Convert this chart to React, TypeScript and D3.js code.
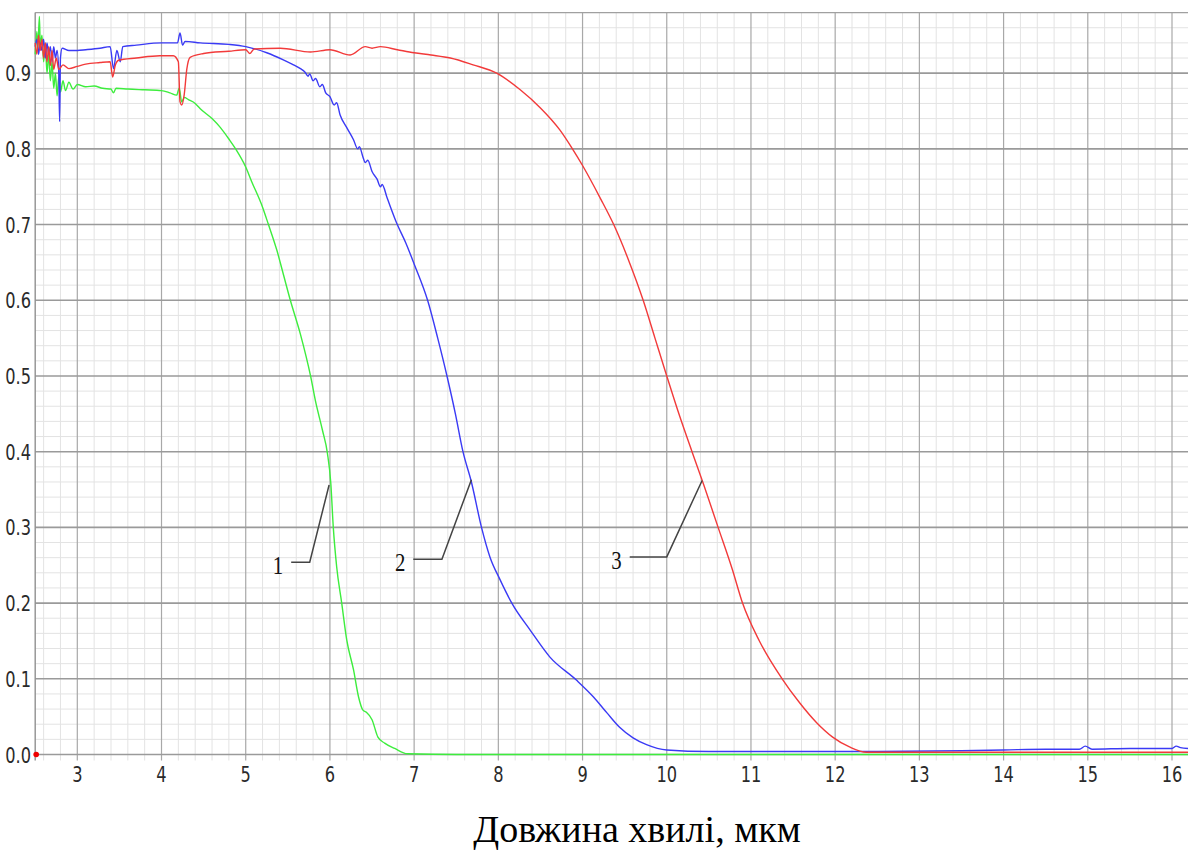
import React, { useEffect, useRef } from 'react';
import * as d3 from 'd3';

type Pt = [number, number];

// Tick values
const xTickValues = [3, 4, 5, 6, 7, 8, 9, 10, 11, 12, 13, 14, 15, 16];
const yTickValues = [0, 0.1, 0.2, 0.3, 0.4, 0.5, 0.6, 0.7, 0.8, 0.9];

const axisTitle = 'Довжина хвилі, мкм';

// Curve 1 (green)
const greenCurve: Pt[] = [
  [2.50, 0.925], [2.52, 0.955], [2.53, 0.93], [2.55, 0.975], [2.56, 0.935], [2.58, 0.95],
  [2.60, 0.915], [2.62, 0.94], [2.64, 0.9], [2.66, 0.925], [2.68, 0.89], [2.70, 0.915],
  [2.72, 0.88], [2.74, 0.9], [2.76, 0.87], [2.78, 0.895], [2.80, 0.875], [2.83, 0.89],
  [2.86, 0.877], [2.90, 0.888], [2.95, 0.879], [3.0, 0.885], [3.1, 0.882], [3.2, 0.883],
  [3.3, 0.880], [3.40, 0.879], [3.43, 0.874], [3.46, 0.880], [3.6, 0.879], [3.8, 0.878],
  [4.0, 0.877], [4.1, 0.874], [4.18, 0.871], [4.21, 0.880], [4.24, 0.862], [4.27, 0.868],
  [4.32, 0.865], [4.4, 0.86], [4.46, 0.853], [4.6, 0.84], [4.7, 0.828], [4.8, 0.813],
  [4.88, 0.800], [5.0, 0.776], [5.07, 0.757], [5.2, 0.723], [5.27, 0.70], [5.37, 0.666],
  [5.45, 0.633], [5.53, 0.6], [5.65, 0.555], [5.77, 0.5], [5.83, 0.466], [5.91, 0.429],
  [5.97, 0.398], [6.01, 0.359], [6.04, 0.30], [6.08, 0.248], [6.14, 0.20], [6.2, 0.151],
  [6.28, 0.112], [6.34, 0.076], [6.39, 0.059], [6.43, 0.056], [6.5, 0.046], [6.57, 0.023],
  [6.65, 0.015], [6.77, 0.008], [6.92, 0.001], [7.5, 0.0], [16.19, 0.0],
];

// Curve 2 (blue)
const blueCurve: Pt[] = [
  [2.50, 0.935], [2.52, 0.945], [2.54, 0.925], [2.56, 0.94], [2.58, 0.93], [2.60, 0.945],
  [2.62, 0.92], [2.64, 0.94], [2.66, 0.925], [2.68, 0.935], [2.70, 0.915], [2.72, 0.935],
  [2.74, 0.92], [2.76, 0.93], [2.78, 0.90], [2.79, 0.836], [2.80, 0.92], [2.82, 0.933],
  [2.9, 0.93], [3.0, 0.93], [3.1, 0.931], [3.27, 0.933], [3.39, 0.935], [3.43, 0.906],
  [3.47, 0.93], [3.51, 0.915], [3.54, 0.935], [3.7, 0.937], [4.0, 0.94], [4.19, 0.94],
  [4.22, 0.953], [4.25, 0.937], [4.28, 0.942], [4.46, 0.94], [4.8, 0.938], [5.0, 0.935],
  [5.25, 0.927], [5.44, 0.918], [5.55, 0.912], [5.65, 0.906], [5.7, 0.902], [5.74, 0.896],
  [5.76, 0.899], [5.8, 0.89], [5.83, 0.893], [5.88, 0.882], [5.91, 0.885], [5.95, 0.874],
  [6.0, 0.869], [6.05, 0.858], [6.08, 0.861], [6.12, 0.845], [6.2, 0.828], [6.28, 0.812],
  [6.33, 0.800], [6.35, 0.803], [6.39, 0.790], [6.42, 0.782], [6.45, 0.785], [6.5, 0.770],
  [6.56, 0.760], [6.6, 0.750], [6.62, 0.753], [6.68, 0.735], [6.8, 0.70], [6.9, 0.676],
  [7.0, 0.648], [7.16, 0.6], [7.28, 0.55], [7.39, 0.5], [7.49, 0.45], [7.58, 0.40],
  [7.68, 0.36], [7.8, 0.30], [7.9, 0.261], [8.02, 0.231], [8.16, 0.20], [8.38, 0.164],
  [8.61, 0.129], [8.93, 0.098], [9.13, 0.076], [9.29, 0.055], [9.44, 0.036], [9.6, 0.022],
  [9.76, 0.013], [10.0, 0.006], [10.5, 0.004], [11.5, 0.004], [12.5, 0.004], [13.5, 0.005],
  [14.0, 0.006], [14.5, 0.007], [14.9, 0.007], [14.97, 0.011], [15.05, 0.007], [15.5, 0.008],
  [16.0, 0.008], [16.05, 0.011], [16.1, 0.009], [16.19, 0.008],
];

// Curve 3 (red)
const redCurve: Pt[] = [
  [2.50, 0.94], [2.52, 0.925], [2.54, 0.95], [2.56, 0.93], [2.58, 0.945], [2.60, 0.92],
  [2.62, 0.94], [2.64, 0.915], [2.66, 0.935], [2.68, 0.91], [2.70, 0.93], [2.72, 0.905],
  [2.75, 0.92], [2.78, 0.905], [2.83, 0.911], [2.9, 0.906], [3.0, 0.909], [3.1, 0.912],
  [3.27, 0.914], [3.39, 0.915], [3.42, 0.895], [3.45, 0.91], [3.49, 0.917], [3.7, 0.92],
  [3.98, 0.923], [4.14, 0.923], [4.2, 0.915], [4.22, 0.862], [4.24, 0.858], [4.27, 0.872],
  [4.30, 0.905], [4.34, 0.921], [4.5, 0.926], [4.8, 0.929], [5.0, 0.931], [5.05, 0.926],
  [5.1, 0.932], [5.41, 0.933], [5.77, 0.928], [6.0, 0.931], [6.24, 0.924], [6.42, 0.935],
  [6.5, 0.933], [6.6, 0.935], [6.8, 0.931], [7.0, 0.927], [7.2, 0.924], [7.43, 0.92],
  [7.7, 0.911], [7.98, 0.9], [8.26, 0.878], [8.5, 0.854], [8.73, 0.825], [8.88, 0.8],
  [9.0, 0.778], [9.21, 0.735], [9.37, 0.7], [9.55, 0.652], [9.72, 0.6], [9.86, 0.55],
  [10.0, 0.5], [10.15, 0.448], [10.3, 0.40], [10.44, 0.356], [10.61, 0.3], [10.78, 0.244],
  [10.9, 0.2], [11.1, 0.15], [11.37, 0.1], [11.58, 0.068], [11.78, 0.042], [11.97, 0.023],
  [12.17, 0.01], [12.37, 0.003], [13, 0.003], [14, 0.003], [15, 0.003], [16.19, 0.003],
];

const redStart: Pt = [2.5, 0];

// Curve number callouts: tip on the curve, knee, tail of the horizontal stroke
const calloutLabels = ['1', '2', '3'];
const calloutTips: Pt[] = [[5.99, 0.356], [7.68, 0.363], [10.42, 0.362]];
const calloutKnees: Pt[] = [[5.76, 0.254], [7.33, 0.258], [10.0, 0.261]];
const calloutTails: Pt[] = [[5.54, 0.254], [6.99, 0.258], [9.56, 0.261]];

const series = [
  { data: greenCurve, color: '#3ded3d' },
  { data: blueCurve, color: '#3a3af5' },
  { data: redCurve, color: '#f23a3a' },
];

const width = 1195;
const height = 852;

export default function App() {
  const ref = useRef<SVGSVGElement | null>(null);

  useEffect(() => {
    const svg = d3.select(ref.current);
    svg.selectAll('*').remove();

    const x = d3.scaleLinear().domain([2.5, 16.19]).range([35.2, 1188]);
    const y = d3.scaleLinear().domain([0, 0.98]).range([754.5, 12.6]);

    const [x0, x1] = x.range();
    const top = y(0.98);
    const bottom = y(0);

    // minor grid
    const minorX = d3.range(2.6, 16.19, 0.2).filter(v => Math.abs(v - Math.round(v)) > 0.01);
    const minorY = d3.range(0.02, 0.98, 0.02).filter(v => Math.abs(v * 10 - Math.round(v * 10)) > 0.01);

    const grid = svg.append('g');
    grid.selectAll('.mx').data(minorX).enter().append('line')
      .attr('x1', d => x(d)).attr('x2', d => x(d))
      .attr('y1', top).attr('y2', bottom + 6)
      .attr('stroke', '#e3e3e3').attr('stroke-width', 1);
    grid.selectAll('.my').data(minorY).enter().append('line')
      .attr('x1', x0).attr('x2', x1)
      .attr('y1', d => y(d)).attr('y2', d => y(d))
      .attr('stroke', '#e3e3e3').attr('stroke-width', 1);

    // major grid
    grid.selectAll('.Mx').data(xTickValues).enter().append('line')
      .attr('x1', d => x(d)).attr('x2', d => x(d))
      .attr('y1', top).attr('y2', bottom + 6)
      .attr('stroke', '#a8a8a8').attr('stroke-width', 1.2);
    grid.selectAll('.My').data(yTickValues).enter().append('line')
      .attr('x1', x0).attr('x2', x1)
      .attr('y1', d => y(d)).attr('y2', d => y(d))
      .attr('stroke', '#9a9a9a').attr('stroke-width', 1.6);

    // frame
    grid.append('line').attr('x1', x0).attr('x2', x1).attr('y1', top).attr('y2', top)
      .attr('stroke', '#a0a0a0').attr('stroke-width', 1.4);
    grid.append('line').attr('x1', x0).attr('x2', x0).attr('y1', top).attr('y2', bottom + 6)
      .attr('stroke', '#909090').attr('stroke-width', 1.4);

    // tick labels
    const tickFont = '"Liberation Sans Narrow", "DejaVu Sans Condensed", sans-serif';
    svg.append('g').selectAll('text').data(yTickValues).enter().append('text')
      .attr('transform', d => `translate(31, ${y(d) + 8}) scale(0.82, 1)`)
      .attr('text-anchor', 'end')
      .attr('font-family', tickFont)
      .attr('font-size', 22)
      .attr('fill', '#2a2a2a')
      .text(d => d3.format('.1f')(d));

    svg.append('g').selectAll('text').data(xTickValues).enter().append('text')
      .attr('transform', d => `translate(${x(d)}, ${bottom + 27}) scale(0.82, 1)`)
      .attr('text-anchor', 'middle')
      .attr('font-family', tickFont)
      .attr('font-size', 22)
      .attr('fill', '#2a2a2a')
      .text(d => String(d));

    // curves
    const curve = d3.line<Pt>().x(d => x(d[0])).y(d => y(d[1])).curve(d3.curveMonotoneX);
    series.forEach(s => {
      svg.append('path')
        .datum(s.data)
        .attr('d', curve)
        .attr('fill', 'none')
        .attr('stroke', s.color)
        .attr('stroke-width', 1.4)
        .attr('stroke-linejoin', 'round');
    });

    svg.append('circle')
      .attr('cx', x(redStart[0]) + 1).attr('cy', y(redStart[1]))
      .attr('r', 2.8).attr('fill', '#e00');

    // callouts
    const line = d3.line<Pt>().x(d => x(d[0])).y(d => y(d[1]));
    calloutLabels.forEach((label, i) => {
      const pts: Pt[] = [calloutTails[i], calloutKnees[i], calloutTips[i]];
      svg.append('path')
        .datum(pts)
        .attr('d', line)
        .attr('fill', 'none')
        .attr('stroke', '#444')
        .attr('stroke-width', 1.5);
      svg.append('text')
        .attr('transform', `translate(${x(calloutTails[i][0]) - 8}, ${y(calloutTails[i][1]) + 12}) scale(0.8, 1)`)
        .attr('text-anchor', 'end')
        .attr('font-family', '"Liberation Serif", "DejaVu Serif", serif')
        .attr('font-size', 26)
        .attr('fill', '#111')
        .text(label);
    });

    // axis title
    svg.append('text')
      .attr('x', 637)
      .attr('y', 842)
      .attr('text-anchor', 'middle')
      .attr('font-family', '"Liberation Serif", "DejaVu Serif", serif')
      .attr('font-size', 38)
      .attr('fill', '#000')
      .text(axisTitle);
  }, []);

  return (
    <div style={{ position: 'absolute', left: 0, top: 0 }}>
      <svg ref={ref} width={width} height={height} style={{ display: 'block', background: '#fff' }} />
    </div>
  );
}
